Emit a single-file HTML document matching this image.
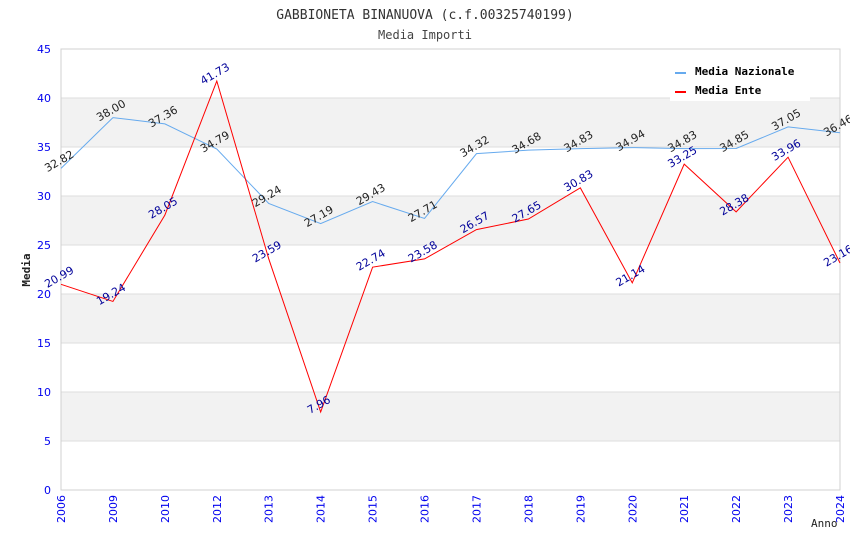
<!DOCTYPE html>
<html><head><meta charset="utf-8"><style>
body{margin:0;background:#fff;}
svg{display:block;}
</style></head><body>
<svg id="c" width="850" height="550" xmlns="http://www.w3.org/2000/svg">
<text x="425" y="19" text-anchor="middle" font-family="DejaVu Sans Mono, monospace" font-size="13" fill="#333">GABBIONETA BINANUOVA (c.f.00325740199)</text>
<text x="425" y="39" text-anchor="middle" font-family="DejaVu Sans Mono, monospace" font-size="12" fill="#444">Media Importi</text>
<g id="bands"></g><g id="grid"></g><g id="axes"></g><g id="series"></g><g id="labels"></g>
<rect x="670" y="58" width="140" height="43" fill="#fff"/>
<line x1="675" y1="73" x2="686" y2="73" stroke="#66aaee" stroke-width="2"/>
<text x="695" y="75" font-family="DejaVu Sans Mono, monospace" font-size="11" font-weight="bold" fill="#000">Media Nazionale</text>
<line x1="675" y1="92" x2="686" y2="92" stroke="#ff0000" stroke-width="2"/>
<text x="695" y="94" font-family="DejaVu Sans Mono, monospace" font-size="11" font-weight="bold" fill="#000">Media Ente</text>
<text x="30" y="270" transform="rotate(-90 30 270)" text-anchor="middle" font-family="DejaVu Sans Mono, monospace" font-size="11" font-weight="bold" fill="#222">Media</text>
<text x="811" y="527" font-family="DejaVu Sans Mono, monospace" font-size="11" fill="#222">Anno</text>
</svg>
<script>
const categories=["2006","2009","2010","2012","2013","2014","2015","2016","2017","2018","2019","2020","2021","2022","2023","2024"];
const nazionale=[32.82,38.00,37.36,34.79,29.24,27.19,29.43,27.71,34.32,34.68,34.83,34.94,34.83,34.85,37.05,36.46];
const ente=[20.99,19.24,28.05,41.73,23.59,7.96,22.74,23.58,26.57,27.65,30.83,21.14,33.25,28.38,33.96,23.16];
const yTicks=[0,5,10,15,20,25,30,35,40,45];
const NS="http://www.w3.org/2000/svg";
const L=61,R=840,T=49,B=490,YMAX=45;
const xs=i=>L+i*(R-L)/(categories.length-1);
const ys=v=>B-v/YMAX*(B-T);
function mk(p,tag,attrs){const e=document.createElementNS(NS,tag);for(const k in attrs)e.setAttribute(k,attrs[k]);document.getElementById(p).appendChild(e);return e;}
for(let i=0;i<yTicks.length-1;i++){
  if(i%2===1){const r=mk('bands','rect',{x:L,y:ys(yTicks[i+1]),width:R-L,height:ys(yTicks[i])-ys(yTicks[i+1]),fill:'#f2f2f2'});
  
  }
}
yTicks.forEach(v=>{
  const g=mk('grid','line',{x1:L,x2:R,y1:ys(v),y2:ys(v),stroke:'#dddddd'});
  
  
  const t=mk('axes','text',{x:L-10,y:ys(v)+4,'text-anchor':'end','font-family':'DejaVu Sans, sans-serif','font-size':'11',fill:'#0000ee'});
  t.textContent=v;
  
  
});
const fr=mk('axes','rect',{x:L,y:T,width:R-L,height:B-T,fill:'none',stroke:'#d0d0d0'});


categories.forEach((c,i)=>{
  const x=xs(i),y=B+5;
  const t=mk('axes','text',{x:x+4,y:y,transform:`rotate(-90 ${x+4} ${y})`,'text-anchor':'end','font-family':'DejaVu Sans, sans-serif','font-size':'11',fill:'#0000ee'});
  t.textContent=c;
  
  
});
function series(data,color,lc,name){
  const p=mk('series','polyline',{points:data.map((v,i)=>xs(i)+','+ys(v)).join(' '),fill:'none',stroke:color,'stroke-width':'1'});
  
  
  data.forEach((v,i)=>{
    const x=xs(i),y=ys(v)-4;
    const t=mk('labels','text',{x:x,y:y,transform:`rotate(-30 ${x} ${y})`,'text-anchor':'middle','font-family':'DejaVu Sans, sans-serif','font-size':'11',fill:lc});
    t.textContent=v.toFixed(2);
    
    
  });
}
series(nazionale,'#66aaee','#222','nazionale');
series(ente,'#ff0000','#000099','ente');
</script>
</body></html>
